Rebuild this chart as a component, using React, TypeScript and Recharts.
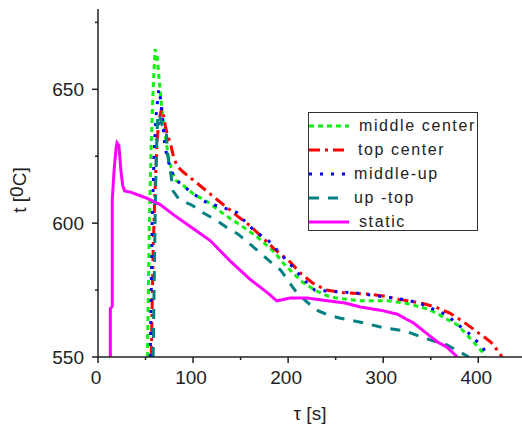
import React from 'react'
import { LineChart, Line, XAxis, YAxis, Label } from 'recharts'

// temperature histories, [time s, temperature °C]
const middleCenter: [number, number][] = [
  [52, 550], [53, 575], [54, 600], [56, 630], [58, 650], [60, 665], [62, 663], [64, 655],
  [66, 647], [68, 640], [71, 632], [74, 625], [78, 619], [82, 616], [90, 614], [100, 611],
  [115, 608], [130, 604], [140, 601.5], [155, 598], [167, 595], [175, 592.5], [186, 589],
  [195, 585], [204, 581.7], [215, 578], [228, 575], [240, 573], [251, 572], [276, 571],
  [293, 571], [304, 571], [315, 570.5], [325, 570], [346, 568], [356, 566.5], [365, 564.5],
  [378, 562], [386, 559], [394, 556], [404, 552], [407, 550],
]

const topCenter: [number, number][] = [
  [56, 550], [57, 570], [58, 590], [60, 612], [62, 630], [64, 638], [67, 643], [69, 640],
  [71, 636], [73, 633], [76, 630], [80, 624], [84, 621], [90, 619], [104, 615], [116, 611.5],
  [128, 608], [149, 602], [160, 599], [172, 595], [185, 590.5], [202, 585.5], [214, 581],
  [226, 577.6], [240, 575], [258, 574], [284, 573.5], [300, 572.8], [316, 571.6], [342, 570],
  [356, 568.5], [370, 566.4], [385, 563], [399, 559.3], [408, 557], [415, 555], [422, 551.5],
  [425, 550],
]

const middleUp: [number, number][] = [
  [55, 550], [56, 575], [57, 600], [59, 625], [61, 640], [64, 650], [66, 646], [68, 638],
  [70, 630], [73, 624], [76, 621], [80, 617], [86, 615], [100, 611], [115, 607.5], [130, 606],
  [146, 604], [155, 600.5], [165, 597], [179, 593.6], [192, 588.5], [205, 583.6], [216, 579],
  [228, 575], [245, 574.5], [270, 574], [290, 573], [311, 572], [325, 571.3], [339, 570],
  [352, 568], [367, 565.7], [379, 562], [393, 558], [405, 553.4], [410, 550],
]

const upTop: [number, number][] = [
  [58, 550], [59, 575], [60, 600], [61, 620], [62, 632], [63, 641], [65, 640], [67, 637],
  [70, 635], [72, 634], [73, 626], [76, 620], [79, 612], [85, 609], [99, 606.7], [110, 604],
  [125, 601], [135, 598.5], [147, 596], [157, 593], [167, 590], [180, 586], [192, 582.5],
  [200, 578.5], [209, 574], [220, 570.5], [230, 567.5], [242, 565.7], [255, 564.5], [276, 563],
  [300, 561], [323, 559.7], [344, 557], [367, 554.5], [380, 552], [390, 550],
]

const staticRun: [number, number][] = [
  [13, 550], [13, 568], [15, 569], [15, 609], [17, 620], [19, 628], [20, 630], [22, 629],
  [24, 620], [26, 614], [28, 612], [35, 611.5], [50, 609.5], [65, 607], [80, 603], [100, 598],
  [118, 593.5], [140, 585.5], [160, 579], [171, 576], [180, 573.5], [188, 571], [195, 571.5],
  [202, 572], [220, 572], [241, 571], [260, 570.2], [276, 568.7], [297, 567.5], [315, 566],
  [325, 564], [332, 562.7], [345, 559], [357, 555.6], [367, 553.7], [378, 550],
]

const xTicks = [0, 50, 100, 150, 200, 250, 300, 350, 400]
const yTicks = [550, 575, 600, 625, 650, 675]

const toRows = (pts: [number, number][]) => pts.map(([t, v]) => ({ t, v }))

const series = [
  { name: 'middle center', data: middleCenter, color: '#11f011', dash: '5 4', textX: 50, len: 40 },
  { name: 'top center', data: topCenter, color: '#ff0000', dash: '11 5 3 5', textX: 49, len: 40 },
  { name: 'middle-up', data: middleUp, color: '#0000ff', dash: '3 8', textX: 45, len: 36 },
  { name: 'up -top', data: upTop, color: '#008080', dash: '10 9', textX: 45, len: 36 },
  { name: 'static', data: staticRun, color: '#ff00ff', dash: undefined, textX: 50, len: 40 },
]

const font = '"Liberation Sans", Arial, sans-serif'
const ink = '#222'

const XTick = ({ x, y, payload }: any) => {
  const major = payload.value % 100 === 0
  return (
    <g>
      <line x1={x} x2={x} y1={y} y2={y + (major ? 6 : 3)} stroke={ink} strokeWidth={1.5} />
      {major && (
        <text x={x - 2} y={y + 27} textAnchor="middle" fontSize={19} fill={ink} fontFamily={font}>
          {payload.value}
        </text>
      )}
    </g>
  )
}

const YTick = ({ x, y, payload }: any) => {
  const major = payload.value % 50 === 0
  return (
    <g>
      <line x1={x} x2={x - (major ? 6 : 3)} y1={y} y2={y} stroke={ink} strokeWidth={1.5} />
      {major && (
        <text x={x - 14} y={y} dy="0.36em" textAnchor="end" fontSize={19} fill={ink} fontFamily={font}>
          {payload.value}
        </text>
      )}
    </g>
  )
}

// boxed key in the upper right of the plot
const LegendBox = () => (
  <div
    style={{
      position: 'absolute',
      left: 308,
      top: 112,
      width: 168,
      height: 117,
      border: '1.5px solid #333',
      background: '#fff',
      fontFamily: font,
      fontSize: 16,
      letterSpacing: 1.6,
      color: ink,
    }}
  >
    {series.map((s, i) => (
      <div key={s.name} style={{ position: 'absolute', left: 0, top: 2 + i * 24, height: 22, width: 168 }}>
        <svg width={42} height={22} style={{ position: 'absolute', left: 0, top: 0 }}>
          <line x1={0} x2={s.len} y1={11} y2={11} stroke={s.color} strokeWidth={3} strokeDasharray={s.dash} />
        </svg>
        <span style={{ position: 'absolute', left: s.textX, top: 2, whiteSpace: 'nowrap' }}>{s.name}</span>
      </div>
    ))}
  </div>
)

export default function App() {
  return (
    <div style={{ position: 'absolute', left: 0, top: 0, width: 522, height: 427, background: '#fff' }}>
      <LineChart width={522} height={427} margin={{ top: 9, right: 0, left: 0, bottom: 0 }}>
        <XAxis
          type="number"
          dataKey="t"
          domain={[0, 446]}
          ticks={xTicks}
          interval={0}
          allowDataOverflow
          height={70}
          tickSize={0}
          tickMargin={0}
          tick={<XTick />}
          axisLine={{ stroke: ink, strokeWidth: 1.5 }}
        >
          <Label
            content={() => (
              <text x={310} y={420} textAnchor="middle" fontSize={19} fill={ink} fontFamily={font}>
                τ [s]
              </text>
            )}
          />
        </XAxis>
        <YAxis
          type="number"
          dataKey="v"
          domain={[550, 680]}
          ticks={yTicks}
          interval={0}
          allowDataOverflow
          width={98}
          tickSize={0}
          tickMargin={0}
          tick={<YTick />}
          axisLine={{ stroke: ink, strokeWidth: 1.5 }}
        >
          <Label
            content={() => (
              <text
                x={26}
                y={190}
                transform="rotate(-90 26 190)"
                textAnchor="middle"
                fontSize={19}
                fill={ink}
                fontFamily={font}
              >
                t [<tspan dy={-3}>0</tspan>
                <tspan dy={3}>C]</tspan>
              </text>
            )}
          />
        </YAxis>
        {series.map((s) => (
          <Line
            key={s.name}
            data={toRows(s.data)}
            dataKey="v"
            name={s.name}
            type="linear"
            stroke={s.color}
            strokeWidth={3}
            strokeDasharray={s.dash}
            dot={false}
            activeDot={false}
            isAnimationActive={false}
          />
        ))}
      </LineChart>
      <LegendBox />
    </div>
  )
}
